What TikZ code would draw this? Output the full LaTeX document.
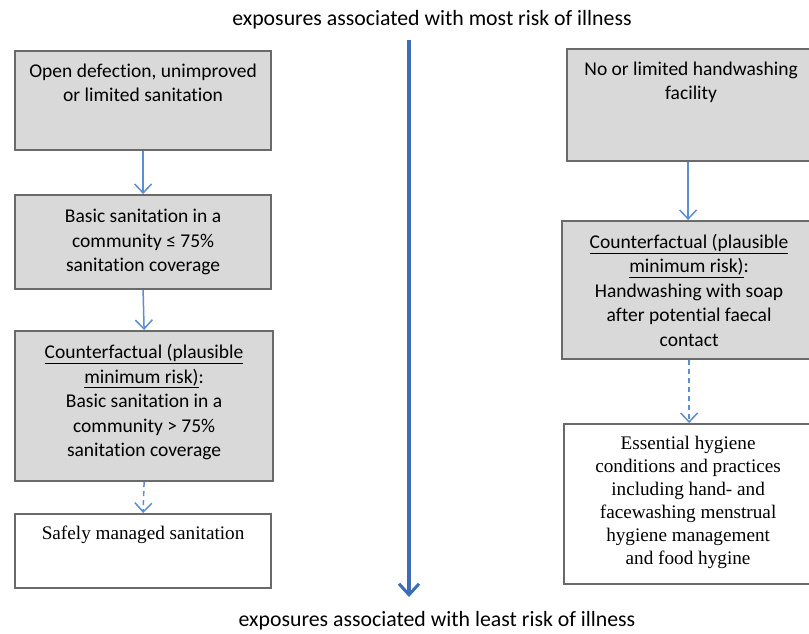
\documentclass[tikz,border=0pt]{standalone}
\usepackage{fontspec}
\setmainfont{Carlito}[Ligatures={NoCommon}]
\newfontfamily\tms{Liberation Serif}
\usetikzlibrary{arrows.meta}
\definecolor{boxfill}{HTML}{D9D9D9}
\definecolor{boxline}{HTML}{6A6A6A}
\definecolor{arrblue}{HTML}{5B8ED3}
\definecolor{mainblue}{HTML}{3D6DB8}
\newcommand\bxtop[3]{\parbox[c][#2pt][t]{#1pt}{\centering\rule{0pt}{26pt}#3}}
\newcommand\bxmid[3]{\parbox[c][#2pt][c]{#1pt}{\centering #3}}
\begin{document}
\begin{tikzpicture}[x=1pt,y=-1pt,
  gbox/.style={draw=boxline,line width=2.2pt,fill=boxfill,inner sep=0pt,anchor=north west,
    font=\fontsize{19.5}{24.5}\selectfont},
  wbox/.style={draw=boxline,line width=2.2pt,fill=white,inner sep=0pt,anchor=north west,
    font=\tms\fontsize{19.2}{23}\selectfont},
  lbl/.style={font=\fontsize{21.8}{26}\selectfont,inner sep=0pt},
  conn/.style={draw=arrblue,line width=1.5pt,-{Straight Barb[length=9pt,width=17pt,line width=1.5pt]}},
  dconn/.style={conn,dash pattern=on 5pt off 4pt}
]
\useasboundingbox (0,0) rectangle (809,633);
\fill[white] (0,0) rectangle (809,633);

\node[lbl] (top) at (432,20) {exposures associated with most risk of illness};
\node[lbl] (bot) at (437,621) {exposures associated with least risk of illness};
\coordinate (ms) at (409,40);
\coordinate (me) at (409,597);
\draw[draw=mainblue,line width=3.2pt,-{Straight Barb[length=11pt,width=20pt,line width=3pt]}] (ms) -- (me);

% left column
\node[gbox] (b1) at (14,50) {\bxtop{256}{99}{Open defection, unimproved\\or limited sanitation}};
\node[gbox] (b2) at (14,194) {\bxmid{256}{94}{Basic sanitation in a\\community ≤ 75\%\\sanitation coverage}};
\node[gbox] (b3) at (14,330) {\bxmid{258}{150}{\underline{Counterfactual (plausible}\\\underline{minimum risk)}:\\Basic sanitation in a\\community > 75\%\\sanitation coverage\vspace{8pt}}};
\node[wbox] (b4) at (14,513) {\parbox[c][74pt][t]{256pt}{\centering\rule{0pt}{25pt}Safely managed sanitation}};

% right column
\node[gbox] (b5) at (566,48) {\bxtop{248}{112}{No or limited handwashing\\facility}};
\node[gbox] (b6) at (561,220) {\bxmid{254}{138}{\underline{Counterfactual (plausible}\\\underline{minimum risk)}:\\Handwashing with soap\\after potential faecal\\contact}};
\node[wbox] (b7) at (563,423) {\parbox[c][160pt][c]{248pt}{\centering Essential hygiene\\conditions and practices\\including hand- and\\facewashing menstrual\\hygiene management\\and food hygine\vspace{4pt}}};

\draw[conn] (b1.south) -- (b2.north);
\draw[conn] (b2.south) -- (b3.north);
\draw[dconn] (b3.south) -- (b4.north);
\draw[conn] ([xshift=-3pt]b5.south) -- ([xshift=-3pt]b5.south |- b6.north);
\draw[dconn] (b6.south) -- (b6.south |- b7.north);
\end{tikzpicture}
\end{document}
